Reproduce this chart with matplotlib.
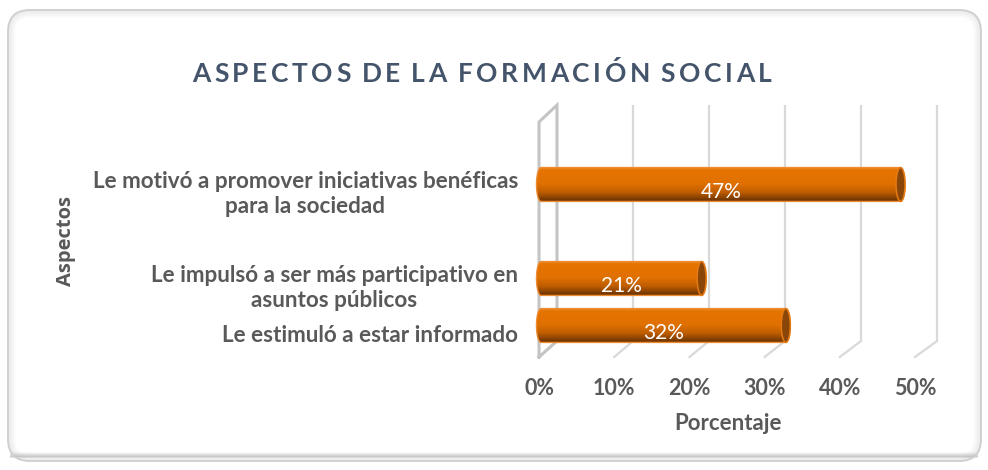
import matplotlib.pyplot as plt
import numpy as np
from matplotlib.patches import FancyBboxPatch, PathPatch, Ellipse
from matplotlib.path import Path
from matplotlib.colors import LinearSegmentedColormap

# data (top to bottom as shown)
categories = ['Le motivó a promover iniciativas benéficas\npara la sociedad',
              'Le impulsó a ser más participativo en\nasuntos públicos',
              'Le estimuló a estar informado']
values = [0.47, 0.21, 0.32]
slots = [3, 1, 0]          # category slot (slot 2 is empty in the source chart)
ticks = [0, 0.1, 0.2, 0.3, 0.4, 0.5]
tick_labels = ['0%', '10%', '20%', '30%', '40%', '50%']
title = 'ASPECTOS DE LA FORMACIÓN SOCIAL'

GRAY = '#595959'
TITLE_C = '#44546A'
FONT = 'Lato'

# 3D-ish geometry (x in value units, y in slot units)
FRONT_X0, FRONT_K = -0.0026, 0.983
BACK_X0, BACK_K = 0.0209, 0.9935
FLOOR_F, FLOOR_B = -0.67, -0.33
TOP_F, TOP_B = 4.33, 4.69
BAR_H = 0.72
CAP_RX = 0.0059

fig = plt.figure(figsize=(9.88, 4.70), dpi=100)

# background / border layer in pixel coords
bg = fig.add_axes([0, 0, 1, 1])
bg.set_xlim(0, 988)
bg.set_ylim(470, 0)
bg.axis('off')
for i in range(8):
    a = 0.10 * (1 - i / 8)
    bg.add_patch(FancyBboxPatch((8 + i, 10 + i), 973 - 2 * i, 451 - 2 * i,
                                boxstyle='round,pad=0,rounding_size=%d' % max(22 - i, 4),
                                fc='none', ec=(0.5, 0.5, 0.5, a), lw=1.3))
for i in range(5):
    bg.add_patch(FancyBboxPatch((10, 452 + i), 968, 2, boxstyle='square,pad=0',
                                fc=(0.55, 0.55, 0.55, 0.05 + 0.05 * i), ec='none'))
bg.add_patch(FancyBboxPatch((8, 10), 973, 451, boxstyle='round,pad=0,rounding_size=22',
                            fc='none', ec='#CFCFCF', lw=1.3))

# title with letter spacing
r = fig.canvas.get_renderer()
tprops = dict(fontsize=19, fontweight='bold', color=TITLE_C, family=FONT,
              va='center', ha='left')
tmp = [bg.text(0, 0, ch if ch != ' ' else 'I', **tprops) for ch in title]
widths = []
for ch, t in zip(title, tmp):
    w = t.get_window_extent(r).width
    widths.append(w * 0.45 if ch == ' ' else w)
    t.remove()
target_w = 580
track = (target_w - sum(widths)) / (len(title) - 1)
x = 482 - target_w / 2
for ch, w in zip(title, widths):
    if ch != ' ':
        bg.text(x, 74, ch, **tprops)
    x += w + track

bg.text(728, 423, 'Porcentaje', fontsize=16, fontweight='bold', color=GRAY,
        family=FONT, ha='center', va='center')
bg.text(66, 241, 'Aspectos', fontsize=14.5, fontweight='bold', color=GRAY,
        family='Open Sans', ha='center', va='center', rotation=90)

# chart layer
ax = fig.add_axes([500 / 988, 70 / 470, 460 / 988, 305 / 470])
ax.set_xlim(-0.0536, 0.5477)
ax.set_ylim(-1.585, 4.904)
ax.axis('off')
ax.patch.set_alpha(0)

# back wall gridlines and floor lines
for v in ticks[1:]:
    xb = BACK_X0 + BACK_K * v
    xf = FRONT_X0 + FRONT_K * v
    ax.plot([xb, xb], [FLOOR_B, TOP_B], color='#D9D9D9', lw=1.6, solid_capstyle='butt')
    ax.plot([xb, xf], [FLOOR_B, FLOOR_F], color='#D9D9D9', lw=1.6)
# left wall
ax.plot([FRONT_X0, FRONT_X0, BACK_X0, BACK_X0, FRONT_X0],
        [FLOOR_F, TOP_F, TOP_B, FLOOR_B, FLOOR_F], color='#C4C4C4', lw=2.2,
        solid_joinstyle='miter')

for v, lab in zip(ticks, tick_labels):
    ax.text(FRONT_X0 + FRONT_K * v, -1.35, lab, fontsize=15.5, fontweight='bold',
            color=GRAY, family=FONT, ha='center', va='center', clip_on=False)

cmap = LinearSegmentedColormap.from_list('cyl', [
    (0.0, '#EC8A2C'), (0.08, '#E67400'), (0.5, '#E07000'),
    (0.75, '#BE5C00'), (1.0, '#6A3300')])
grad = cmap(np.linspace(0, 1, 64))[:, None, :]

for cat, v, s in zip(categories, values, slots):
    y0, y1 = s - BAR_H / 2, s + BAR_H / 2
    t = np.linspace(np.pi / 2, 3 * np.pi / 2, 30)
    left = np.column_stack([CAP_RX * np.cos(t), s + BAR_H / 2 * np.sin(t)])
    t2 = np.linspace(-np.pi / 2, np.pi / 2, 30)
    right = np.column_stack([v + CAP_RX * np.cos(t2), s + BAR_H / 2 * np.sin(t2)])
    verts = np.vstack([left, right, left[:1]])
    body = PathPatch(Path(verts, closed=True), fc='none', ec='#EE8A30', lw=1.0, zorder=3)
    ax.add_patch(body)
    im = ax.imshow(grad, extent=[-CAP_RX, v + CAP_RX, y0, y1], aspect='auto',
                   origin='upper', zorder=2)
    im.set_clip_path(body)
    ax.add_patch(Ellipse((v, s), 2 * CAP_RX, BAR_H, fc='#8A4608', ec='#E57A14',
                         lw=1.1, zorder=4))
    ax.text(v / 2, s - 0.15, '%d%%' % round(v * 100), fontsize=15, color='white',
            family=FONT, ha='center', va='center', zorder=5)
    ax.text(-0.030, s - 0.21, cat, fontsize=16.2, fontweight='bold', color=GRAY,
            family=FONT, ha='right', va='center', multialignment='center',
            linespacing=1.22, clip_on=False)

ax.set_xlim(-0.0536, 0.5477)
ax.set_ylim(-1.585, 4.904)

fig.savefig('out.png', dpi=100)
